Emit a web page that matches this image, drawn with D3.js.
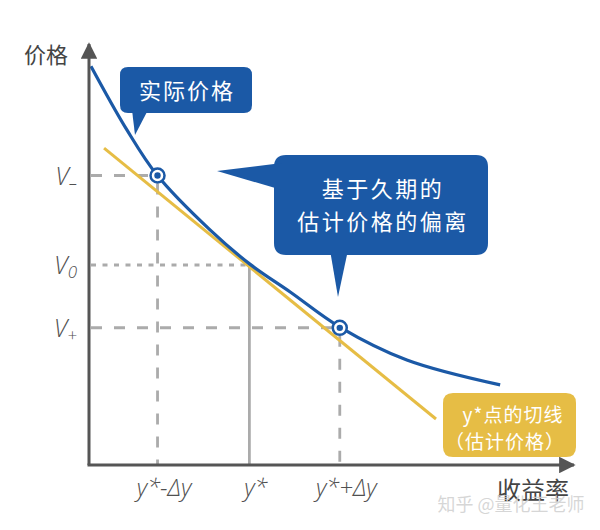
<!DOCTYPE html>
<html>
<head>
<meta charset="utf-8">
<script src="https://cdn.jsdelivr.net/npm/d3@7"></script>
<style>
  html, body { margin: 0; padding: 0; background: #fff; }
  svg { display: block; }
</style>
</head>
<body>
<svg id="chart" width="600" height="530"></svg>
<script>
// ---- data (yield on x, price on y, both in 0..100 chart units) ----
const curveYield = [0.4, 7.8, 14.0, 24.9, 33.1, 41.4, 51.6, 65.4, 84.6];
const curvePrice = [94.5, 79.4, 68.7, 55.7, 47.6, 41.0, 32.7, 24.9, 19.0];
const tangentYield = [3.1, 71.4];
const tangentPrice = [75.1, 10.9];
const yieldTicks = [14.1, 33.0, 51.6];
const yieldTickLabels = ["y*-Δy", "y*", "y*+Δy"];
const priceTicks = [68.6, 47.4, 32.5];
const priceTickMain = ["V", "V", "V"];
const priceTickSub = ["–", "0", "+"];
const markerYield = [14.1, 51.6];
const markerPrice = [68.6, 32.5];
const axisTitleX = "收益率";
const axisTitleY = "价格";
const bubbleActual = ["实际价格"];
const bubbleDeviation = ["基于久期的", "估计价格的偏离"];
const bubbleTangent = ["y*点的切线", "（估计价格）"];
const watermark = "知乎 @量化王老师";

// ---- layout ----
const svg = d3.select("#chart");
const x = d3.scaleLinear().domain([0, 100]).range([89, 575]);
const y = d3.scaleLinear().domain([0, 100]).range([465, 43]);

const blue = "#1b59a6";
const yellow = "#e6bd45";
const grey = "#ababab";
const axisCol = "#555";
const cjk = "'Noto Sans CJK SC', 'Noto Sans', sans-serif";
const latin = "'Open Sans', 'Noto Sans', sans-serif";

// guide lines
const g = svg.append("g");
const hDash = ["11,12", "5,6.5", "11,12"];
priceTicks.forEach((p, i) => {
  g.append("line")
    .attr("x1", x(0) + 2).attr("x2", x(yieldTicks[i]))
    .attr("y1", y(p)).attr("y2", y(p))
    .attr("stroke", grey).attr("stroke-width", 3)
    .attr("stroke-dasharray", hDash[i]);
});
const vDash = ["11,12", null, "11,12"];
yieldTicks.forEach((t, i) => {
  const l = g.append("line")
    .attr("x1", x(t)).attr("x2", x(t))
    .attr("y1", y(priceTicks[i]) + (vDash[i] ? 8 : 0)).attr("y2", y(0))
    .attr("stroke", grey).attr("stroke-width", 2.8);
  if (vDash[i]) l.attr("stroke-dasharray", vDash[i]);
});

// tangent line
svg.append("path")
  .datum(tangentYield.map((v, i) => [v, tangentPrice[i]]))
  .attr("d", d3.line().x(d => x(d[0])).y(d => y(d[1])))
  .attr("fill", "none").attr("stroke", yellow).attr("stroke-width", 3);

// actual price curve
svg.append("path")
  .datum(curveYield.map((v, i) => [v, curvePrice[i]]))
  .attr("d", d3.line().x(d => x(d[0])).y(d => y(d[1])).curve(d3.curveCatmullRom.alpha(0.5)))
  .attr("fill", "none").attr("stroke", blue).attr("stroke-width", 3.2);

// markers
markerYield.forEach((m, i) => {
  svg.append("circle").attr("cx", x(m)).attr("cy", y(markerPrice[i]))
    .attr("r", 7).attr("fill", "#fff").attr("stroke", blue).attr("stroke-width", 2.5);
  svg.append("circle").attr("cx", x(m)).attr("cy", y(markerPrice[i]))
    .attr("r", 3.2).attr("fill", blue);
});

// axes (labels only, no ticks)
const xAxis = d3.axisBottom(x).tickValues(yieldTicks)
  .tickFormat((d, i) => yieldTickLabels[i]).tickSize(0).tickPadding(14);
const xg = svg.append("g").attr("transform", `translate(0,${y(0)})`).call(xAxis);
xg.select(".domain").remove();
xg.selectAll("text").attr("font-family", latin).attr("font-style", "italic")
  .attr("font-weight", 300).attr("font-size", 24).attr("fill", "#505050").attr("dx", 6);

const yAxis = d3.axisLeft(y).tickValues(priceTicks).tickFormat(() => "").tickSize(0).tickPadding(12);
const yg = svg.append("g").attr("transform", `translate(${x(0)},0)`).call(yAxis);
yg.select(".domain").remove();
yg.selectAll("text").each(function (d, i) {
  const t = d3.select(this);
  t.attr("font-family", latin).attr("font-style", "italic").attr("font-weight", 300)
    .attr("font-size", 25).attr("fill", "#505050").attr("dy", "0.35em");
  t.text(null);
  t.append("tspan").text(priceTickMain[i]);
  t.append("tspan").attr("font-size", 17).attr("dy", 4).text(priceTickSub[i]);
});

// axis lines with arrows
const defs = svg.append("defs");
defs.append("marker").attr("id", "arrow").attr("viewBox", "0 0 10 10")
  .attr("refX", 9).attr("refY", 5).attr("markerWidth", 5.5).attr("markerHeight", 5.5)
  .attr("markerUnits", "strokeWidth").attr("orient", "auto")
  .append("path").attr("d", "M0,0 L10,5 L0,10 Z").attr("fill", axisCol);
svg.append("path")
  .attr("d", `M${x(0)},${y(0)} L${x(0)},${y(100) + 1}`)
  .attr("stroke", axisCol).attr("stroke-width", 3).attr("marker-end", "url(#arrow)");
svg.append("path")
  .attr("d", `M${x(0) - 1.5},${y(0)} L${x(100) - 1},${y(0)}`)
  .attr("stroke", axisCol).attr("stroke-width", 3).attr("marker-end", "url(#arrow)");

// axis titles
svg.append("text").attr("x", 46).attr("y", 55).attr("dy", "0.35em")
  .attr("text-anchor", "middle").attr("font-family", cjk).attr("font-size", 22)
  .attr("fill", "#444").text(axisTitleY);
svg.append("text").attr("x", 533).attr("y", 491).attr("dy", "0.35em")
  .attr("text-anchor", "middle").attr("font-family", cjk).attr("font-size", 24)
  .attr("fill", "#444").text(axisTitleX);

// watermark
svg.append("text").attr("x", 511).attr("y", 505).attr("dy", "0.35em")
  .attr("text-anchor", "middle").attr("font-family", cjk).attr("font-size", 18)
  .attr("fill", "#cfcfcf").attr("fill-opacity", 0.85).text(watermark);

// bubble helper
function roundRect(x0, y0, w, h, r) {
  return `M${x0 + r},${y0} H${x0 + w - r} Q${x0 + w},${y0} ${x0 + w},${y0 + r} V${y0 + h - r} Q${x0 + w},${y0 + h} ${x0 + w - r},${y0 + h} H${x0 + r} Q${x0},${y0 + h} ${x0},${y0 + h - r} V${y0 + r} Q${x0},${y0} ${x0 + r},${y0} Z`;
}

// bubble 1: actual price
const b1 = svg.append("g");
b1.append("path").attr("d", roundRect(120, 67, 132, 46, 8)).attr("fill", blue);
b1.append("path").attr("d", "M132,110 L148,110 L135,135 Z").attr("fill", blue);
b1.append("text").attr("x", 187).attr("y", 91).attr("dy", "0.35em")
  .attr("text-anchor", "middle").attr("font-family", cjk).attr("font-size", 22)
  .attr("letter-spacing", 2).attr("fill", "#fff").text(bubbleActual[0]);

// bubble 2: deviation
const b2 = svg.append("g");
b2.append("path").attr("d", roundRect(274, 155, 214, 100, 12)).attr("fill", blue);
b2.append("path").attr("d", "M217,171 L282,163 L282,190 Z").attr("fill", blue);
b2.append("path").attr("d", "M330,250 L348,250 L338,297 Z").attr("fill", blue);
bubbleDeviation.forEach((s, i) => {
  b2.append("text").attr("x", 383).attr("y", 189 + i * 33).attr("dy", "0.35em")
    .attr("text-anchor", "middle").attr("font-family", cjk).attr("font-size", 22)
    .attr("letter-spacing", 2.5).attr("fill", "#fff").text(s);
});

// bubble 3: tangent label
const b3 = svg.append("g");
b3.append("path").attr("d", roundRect(443, 393, 133, 64, 10)).attr("fill", yellow);
bubbleTangent.forEach((s, i) => {
  b3.append("text").attr("x", 513 - (i === 1 ? 8 : 0)).attr("y", 415 + i * 27).attr("dy", "0.35em")
    .attr("text-anchor", "middle").attr("font-family", cjk).attr("font-size", 19)
    .attr("letter-spacing", 1).attr("fill", "#fff").text(s);
});
</script>
</body>
</html>
